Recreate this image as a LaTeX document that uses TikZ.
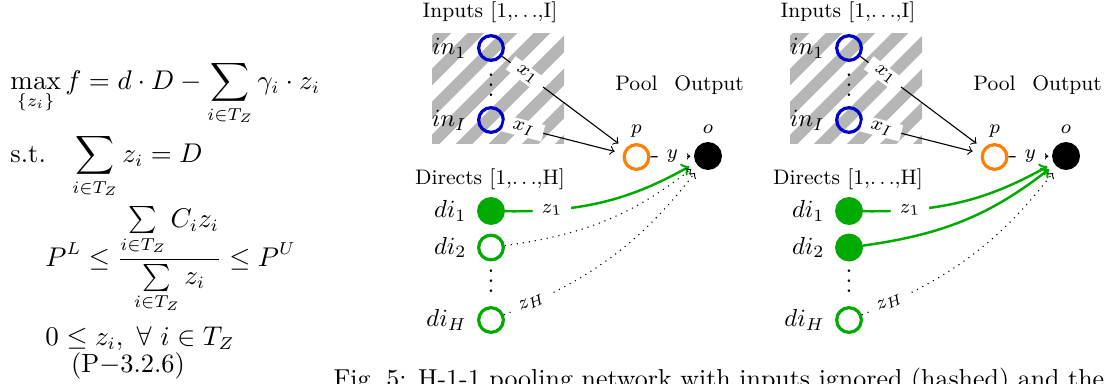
\documentclass[tikz,border=0pt]{standalone}
\usepackage{amsmath}

\definecolor{inblue}{RGB}{0,0,200}
\definecolor{poolorange}{RGB}{255,128,0}
\definecolor{directgreen}{RGB}{0,170,0}
\definecolor{hatchgray}{RGB}{182,182,182}

\tikzset{
  unit/.style={circle, minimum size=10pt, inner sep=0pt, line width=1.3pt},
  inunit/.style={unit, draw=inblue},
  poolunit/.style={unit, draw=poolorange},
  outunit/.style={unit, draw=black, fill=black},
  diron/.style={unit, draw=directgreen, fill=directgreen},
  diroff/.style={unit, draw=directgreen},
  hdr/.style={font=\fontsize{8.5}{10}\selectfont, anchor=base, inner sep=0pt},
  unitname/.style={font=\normalsize, anchor=east, inner sep=0pt},
  wlabel/.style={font=\footnotesize, fill=white, inner xsep=3.7pt, inner ysep=1pt, sloped},
  flow/.style={->, line width=0.45pt, shorten >=3.5pt},
  active/.style={->, draw=directgreen, line width=1pt, shorten >=3pt},
  idle/.style={->, dotted, line width=0.45pt, shorten >=3pt},
  eqline/.style={inner sep=0pt, font=\fontsize{10.7}{13}\selectfont},
}

% One H-1-1 pooling network: #1 name prefix, #2 style of the second direct,
% #3 style of the flow from the second direct to the output
\newcommand{\poolnet}[3]{%
  % ignored inputs: hatched block
  \begin{scope}
    \clip (432,-33) rectangle (564,-143);
    \foreach \c in {443,476,...,740}
      \draw[hatchgray, line width=4.74pt] (\c-200,-200) -- (\c,0);
  \end{scope}
  \node[hdr] (#1inputs) at (490,-17) {Inputs [1,$\ldots$,I]};
  \node[inunit] (#1in1) at (491,-48) {};
  \node[inunit] (#1inI) at (491,-120) {};
  \node[unitname] (#1in1n) at (467,-48) {$in_1$};
  \node[unitname] (#1inIn) at (467,-120) {$in_I$};
  \node[inner sep=0pt] (#1indots) at (491,-77.5) {$\vdots$};
  % pool and output
  \node[hdr] (#1pooltxt) at (636.5,-90) {Pool};
  \node[hdr] (#1outtxt) at (709,-90) {Output};
  \node[poolunit] (#1p) at (636.5,-157) {};
  \node[outunit] (#1o) at (708,-156) {};
  \node[hdr] (#1pn) at (636.5,-133) {$p$};
  \node[hdr] (#1on) at (708,-133) {$o$};
  % directs
  \node[hdr] (#1directs) at (490,-184) {Directs [1,$\ldots$,H]};
  \node[diron] (#1di1) at (491,-211) {};
  \node[#2] (#1di2) at (491,-247.5) {};
  \node[diroff] (#1diH) at (491,-320) {};
  \node[unitname] (#1di1n) at (467,-211) {$di_1$};
  \node[unitname] (#1di2n) at (467,-247.5) {$di_2$};
  \node[unitname] (#1diHn) at (467,-320) {$di_H$};
  \node[inner sep=0pt] (#1didots) at (491,-274) {$\vdots$};
  % flows
  \draw[flow] (#1in1) -- node[wlabel, pos=0.2] {$x_1$} (#1p);
  \draw[flow] (#1inI) -- node[wlabel, pos=0.16] {$x_I$} (#1p);
  \draw[flow, shorten >=1.5pt] (#1p) -- node[wlabel, pos=0.5] {$y$} (#1o);
  \draw[active] (#1di1) to[bend right=15] node[wlabel, pos=0.22] {$z_1$} (#1o);
  \draw[#3] (#1di2) to[bend right=15] (#1o);
  \draw[idle] (#1diH) to[bend right=15] node[wlabel, pos=0.11] {$z_H$} (#1o);
}

\begin{document}
\begin{tikzpicture}[x=0.405pt, y=0.405pt]
  \useasboundingbox (0,0) rectangle (1117,-383);

  % optimisation problem
  \node[eqline, anchor=base west] (objective) at (10,-89)
    {$\displaystyle\max_{\{z_i\}} f = d\cdot D - \sum_{i\in T_Z}\gamma_i\cdot z_i$};
  \node[eqline, anchor=base west] (balance) at (10,-162)
    {s.t.\quad$\displaystyle\sum_{i\in T_Z} z_i = D$};
  \node[eqline, anchor=base west] (ratio) at (45,-266)
    {$\displaystyle P^L \le \frac{\sum\limits_{i\in T_Z} C_i z_i}{\sum\limits_{i\in T_Z} z_i} \le P^U$};
  \node[eqline, anchor=base west] (bounds) at (45,-345)
    {$0 \le z_i,\ \forall\ i \in T_Z$};
  \node[eqline, anchor=base] (tag) at (128,-372) {(P$-$3.2.6)};

  % the two networks
  \poolnet{L}{diroff}{idle}
  \begin{scope}[xshift=145pt]
    \poolnet{R}{diron}{active}
  \end{scope}

  % caption
  \node[inner sep=0pt, anchor=base west, font=\fontsize{10.5}{13}\selectfont] (caption) at (333,-387)
    {Fig.~5: H-1-1 pooling network with inputs ignored (hashed) and the};
\end{tikzpicture}
\end{document}
